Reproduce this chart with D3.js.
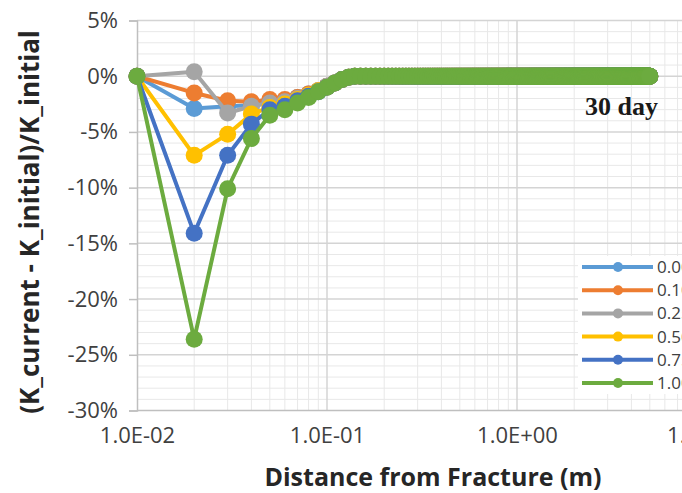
<!DOCTYPE html>
<html lang="en">
<head>
  <meta charset="UTF-8" />
  <title>Permeability change vs distance from fracture</title>
  <style>
    body { margin: 0; background: #fff; overflow: hidden; }
    svg { display: block; font-family: "Open Sans", sans-serif; }
  </style>
</head>
<body>
  <svg id="chart"></svg>

  <script src="https://d3js.org/d3.v7.min.js"></script>
  <script>
    // near-fracture distances (m), read point by point
    const nearDist = [0.01, 0.02, 0.03, 0.04, 0.05, 0.06, 0.07, 0.08, 0.09, 0.10, 0.11, 0.12, 0.13, 0.14];
    // beyond 0.14 m the points keep the 0.01 m spacing out to 5 m and every series sits at 0%
    const tailFrom = 15, tailTo = 500, tailValue = 0;

    const seriesNames = ["0.00", "0.10", "0.25", "0.50", "0.75", "1.00"];
    const seriesColors = ["#5b9bd5", "#ed7d31", "#a5a5a5", "#ffc000", "#4472c4", "#6cab3f"];

    // percent change, one value per nearDist entry
    const vals000 = [0, -2.9, -2.7, -2.6, -2.4, -2.2, -1.9, -1.6, -1.3, -0.9, -0.6, -0.3, -0.1, 0];
    const vals010 = [0, -1.5, -2.2, -2.3, -2.1, -2.1, -1.9, -1.6, -1.3, -0.9, -0.6, -0.3, -0.1, 0];
    const vals025 = [0, 0.4, -3.3, -2.7, -2.4, -2.3, -2.0, -1.7, -1.3, -0.9, -0.6, -0.3, -0.1, 0];
    const vals050 = [0, -7.1, -5.2, -3.4, -2.8, -2.5, -2.1, -1.7, -1.3, -1.0, -0.6, -0.3, -0.1, 0];
    const vals075 = [0, -14.1, -7.1, -4.3, -3.0, -2.7, -2.2, -1.8, -1.4, -1.0, -0.6, -0.3, -0.1, 0];
    const vals100 = [0, -23.6, -10.1, -5.6, -3.5, -3.0, -2.4, -1.9, -1.4, -1.0, -0.6, -0.3, -0.1, 0];
    const seriesVals = [vals000, vals010, vals025, vals050, vals075, vals100];

    const yTicks = [5, 0, -5, -10, -15, -20, -25, -30];
    const xTicks = [0.01, 0.1, 1, 10];

    const fullWidth = 682, fullHeight = 493;
    const x = d3.scaleLog().domain([0.01, 10]).range([137, 707]);
    const y = d3.scaleLinear().domain([-30, 5]).range([410.5, 20.5]);

    const svg = d3.select("#chart").attr("width", fullWidth).attr("height", fullHeight);

    const tailDist = d3.range(tailFrom, tailTo + 1).map(i => i / 100);
    const series = seriesNames.map((name, i) => ({
      name,
      color: seriesColors[i],
      points: nearDist.map((d, j) => ({ d, v: seriesVals[i][j] }))
        .concat(tailDist.map(d => ({ d, v: tailValue })))
    }));

    // gridlines
    const grid = svg.append("g");
    const minorX = [];
    [0.01, 0.1, 1].forEach(dec => { for (let k = 2; k <= 9; k++) minorX.push(dec * k); });
    grid.selectAll(".mx").data(minorX).join("line")
      .attr("x1", d => x(d)).attr("x2", d => x(d))
      .attr("y1", y(5)).attr("y2", y(-30))
      .attr("stroke", "#e8e8e8").attr("stroke-width", 1);
    grid.selectAll(".my").data(d3.range(-30, 6, 1).filter(v => v % 5 !== 0)).join("line")
      .attr("x1", x(0.01)).attr("x2", fullWidth)
      .attr("y1", d => y(d)).attr("y2", d => y(d))
      .attr("stroke", "#e8e8e8").attr("stroke-width", 1);
    grid.selectAll(".Mx").data(xTicks.slice(1)).join("line")
      .attr("x1", d => x(d)).attr("x2", d => x(d))
      .attr("y1", y(5)).attr("y2", y(-30))
      .attr("stroke", "#d4d4d4").attr("stroke-width", 1.5);
    grid.selectAll(".My").data(yTicks.filter(v => v !== -30)).join("line")
      .attr("x1", x(0.01)).attr("x2", fullWidth)
      .attr("y1", d => y(d)).attr("y2", d => y(d))
      .attr("stroke", "#d4d4d4").attr("stroke-width", 1.5);

    // axes
    const yAxis = svg.append("g").attr("transform", `translate(${x(0.01)},0)`)
      .call(d3.axisLeft(y).tickValues(yTicks).tickSize(8).tickPadding(11).tickFormat(d => d + "%"));
    const xAxis = svg.append("g").attr("transform", `translate(0,${y(-30)})`)
      .call(d3.axisBottom(x).tickValues(xTicks).tickSize(0).tickPadding(17)
        .tickFormat(d => {
          const e = Math.round(Math.log10(d));
          return "1.0E" + (e < 0 ? "-" : "+") + String(Math.abs(e)).padStart(2, "0");
        }));
    [yAxis, xAxis].forEach(a => {
      a.select(".domain").attr("stroke", "#bfbfbf").attr("stroke-width", 1.5);
      a.selectAll(".tick line").attr("stroke", "#bfbfbf").attr("stroke-width", 1.5);
      a.selectAll(".tick text").attr("fill", "#404040").attr("font-size", 22)
        .attr("font-family", "Open Sans, sans-serif");
    });
    xAxis.select(".domain").attr("d", `M137,0H${fullWidth}`);

    // series
    const line = d3.line().x(p => x(p.d)).y(p => y(p.v));
    series.forEach(s => {
      const g = svg.append("g");
      g.append("path").datum(s.points).attr("d", line)
        .attr("fill", "none").attr("stroke", s.color).attr("stroke-width", 4)
        .attr("stroke-linejoin", "round");
      g.selectAll("circle").data(s.points).join("circle")
        .attr("cx", p => x(p.d)).attr("cy", p => y(p.v)).attr("r", 8.5)
        .attr("fill", s.color);
    });

    // legend (runs past the right edge, as in the source)
    const legend = svg.append("g");
    legend.append("rect").attr("x", 578).attr("y", 256).attr("width", 120).attr("height", 138).attr("fill", "#fff");
    const ly = d3.scaleLinear().domain([0, 5]).range([267, 383]);
    series.forEach((s, i) => {
      legend.append("line").attr("x1", 582).attr("x2", 653).attr("y1", ly(i)).attr("y2", ly(i))
        .attr("stroke", s.color).attr("stroke-width", 4);
      legend.append("circle").attr("cx", 618).attr("cy", ly(i)).attr("r", 5).attr("fill", s.color);
      legend.append("text").attr("x", 657).attr("y", ly(i)).attr("dy", "0.35em")
        .attr("font-size", 17).attr("fill", "#404040").text(s.name);
    });

    // annotation
    svg.append("text").attr("x", 585).attr("y", 115)
      .attr("font-family", "Liberation Serif, serif").attr("font-weight", "bold")
      .attr("font-size", 26).attr("fill", "#1a1a1a").text("30 day");

    // titles
    svg.append("text").attr("x", 433).attr("y", 486).attr("text-anchor", "middle")
      .attr("font-weight", "bold").attr("font-size", 25).attr("fill", "#262626")
      .text("Distance from Fracture (m)");
    svg.append("text").attr("transform", "translate(39,222) rotate(-90)").attr("text-anchor", "middle")
      .attr("font-weight", "bold").attr("font-size", 26).attr("fill", "#262626")
      .text("(K_current - K_initial)/K_initial");
  </script>
</body>
</html>
